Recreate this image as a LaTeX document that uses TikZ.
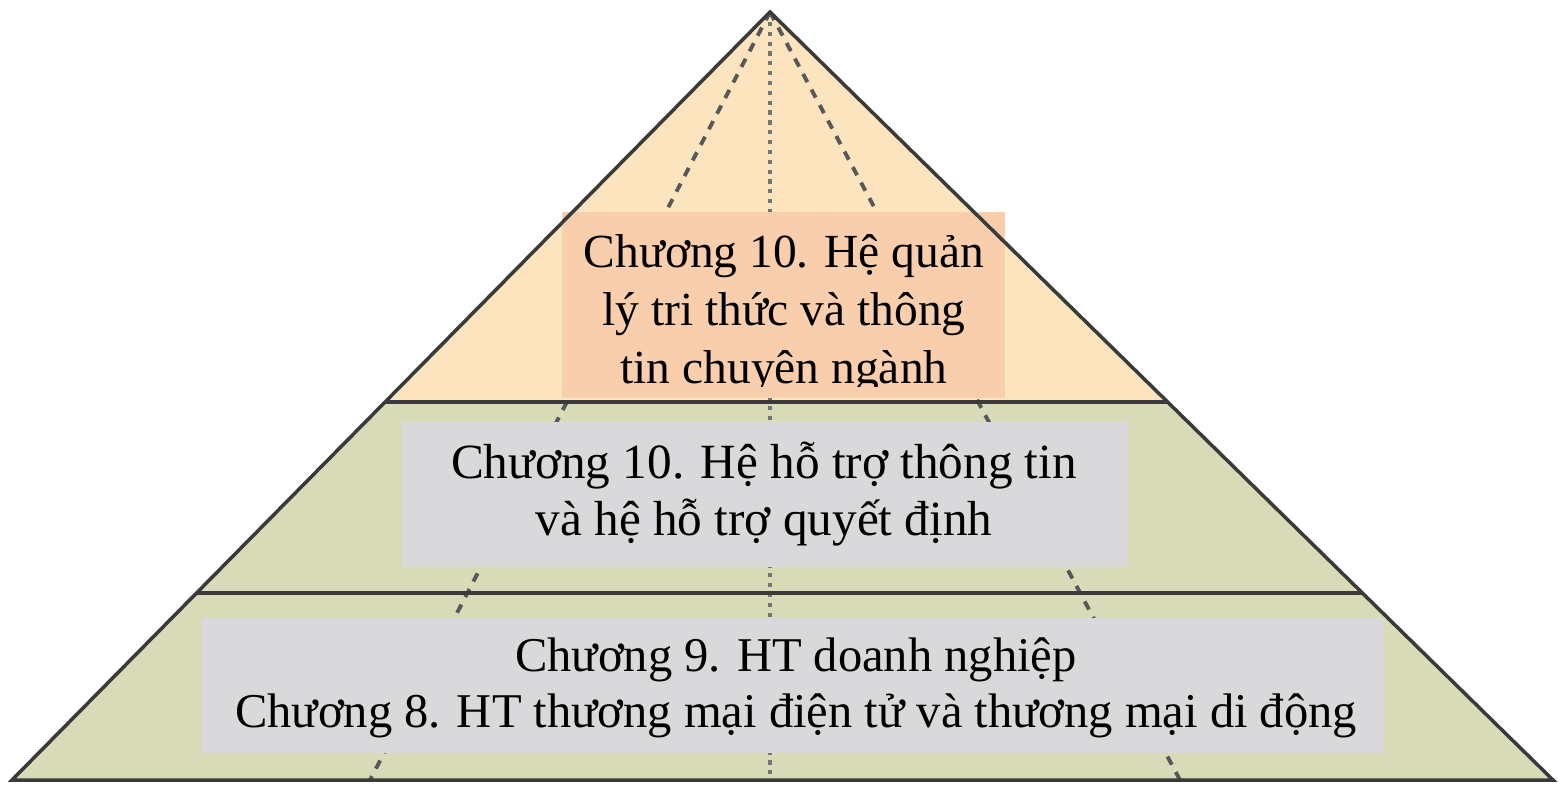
\documentclass[tikz,border=0pt]{standalone}
\usepackage{fontspec}
\setmainfont{Liberation Serif}
\definecolor{PeachTop}{RGB}{252,229,190}
\definecolor{SalmonBox}{RGB}{249,206,172}
\definecolor{OliveBand}{RGB}{217,219,184}
\definecolor{GrayBox}{RGB}{217,217,219}
\definecolor{EdgeGray}{RGB}{58,58,58}

\begin{document}
\begin{tikzpicture}[x=0.01cm,y=-0.01cm,
  edge/.style={draw=EdgeGray,line width=1pt},
  hidden/.style={draw=EdgeGray!85,line width=1.1pt,dash pattern=on 2.6pt off 2.4pt},
  hiddenmid/.style={draw=EdgeGray!70,line width=1.2pt,dash pattern=on 1.2pt off 1.6pt},
  chapter/.style={font=\fontsize{#1}{16}\selectfont,align=center,inner sep=0pt}]
\useasboundingbox (0,0) rectangle (1558,785);

% corners of the pyramid and of its three levels
\coordinate (apex) at (770,12);
\coordinate (bl) at (12,780);
\coordinate (br) at (1553,780);
\coordinate (l1) at (385,402);
\coordinate (r1) at (1168,402);
\coordinate (l2) at (197,593);
\coordinate (r2) at (1362,593);
% feet of the hidden edges
\coordinate (hl) at (370,780);
\coordinate (hc) at (770,780);
\coordinate (hr) at (1180,780);

\fill[PeachTop] (apex) -- (l1) -- (r1) -- cycle;
\fill[OliveBand] (l1) -- (bl) -- (br) -- (r1) -- cycle;

\draw[hidden] (apex) -- (hl);
\draw[hidden] (apex) -- (hr);
\draw[hiddenmid] (apex) -- (hc);

% text boxes
\fill[SalmonBox] (562,212) rectangle (1005,398);
\fill[GrayBox] (402,422) rectangle (1128,567);
\fill[GrayBox] (202,618) rectangle (1384,753);

\begin{scope}
\clip (562,212) rectangle (1005,386);
\node[chapter=13.5,font=\fontsize{13.5}{16.4}\selectfont] (kms) at (784,314) {Chương 10. Hệ quản\\lý tri thức và thông\\tin chuyên ngành};
\end{scope}
\node[chapter=14] (dss) at (764,494) {Chương 10. Hệ hỗ trợ thông tin\\và hệ hỗ trợ quyết định};
\node[chapter=13.8] (erp) at (796,688) {Chương 9. HT doanh nghiệp\\Chương 8. HT thương mại điện tử và thương mại di động};

\draw[edge] (l1) -- (r1);
\draw[edge] (l2) -- (r2);
\draw[edge,line join=miter] (apex) -- (bl) -- (br) -- cycle;
\end{tikzpicture}
\end{document}
